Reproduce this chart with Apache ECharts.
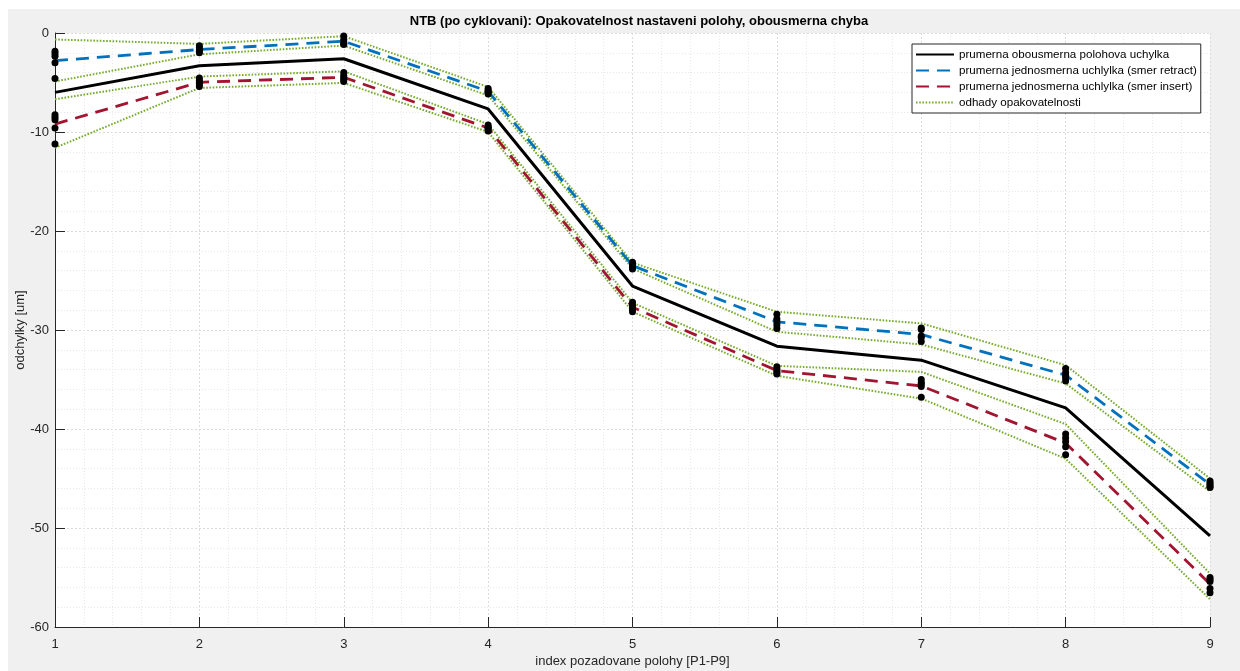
<!DOCTYPE html>
<html>
<head>
<meta charset="utf-8">
<script src="https://cdn.jsdelivr.net/npm/echarts@6/dist/echarts.min.js"></script>
<style>
html,body{margin:0;padding:0;background:#ffffff;}
#chart{position:absolute;left:0;top:0;width:1240px;height:671px;}
</style>
</head>
<body>
<div id="chart"></div>
<script>
// Positions P1-P9
var positions = [1, 2, 3, 4, 5, 6, 7, 8, 9];
var xTickLabels = ['1', '2', '3', '4', '5', '6', '7', '8', '9'];
var yTicks = [-60, -50, -40, -30, -20, -10, 0];

// mean bidirectional deviation
var meanBi = [-6.0, -3.3, -2.6, -7.67, -25.56, -31.63, -33.05, -37.87, -50.8];
// mean unidirectional deviation (retract)
var meanRetract = [-2.8, -1.67, -0.83, -5.89, -23.5, -29.17, -30.45, -34.56, -45.6];
// mean unidirectional deviation (insert)
var meanInsert = [-9.2, -4.98, -4.47, -9.6, -27.7, -34.1, -35.65, -41.42, -55.65];

// repeatability estimates
var retractUpper = [-0.65, -1.1, -0.32, -5.45, -23.2, -28.16, -29.33, -33.55, -45.0];
var retractLower = [-4.9, -2.15, -1.27, -6.3, -23.8, -30.18, -31.46, -35.4, -46.3];
var insertUpper = [-6.7, -4.4, -3.87, -9.2, -27.25, -33.62, -34.23, -39.5, -54.6];
var insertLower = [-11.6, -5.55, -5.04, -10.0, -28.15, -34.63, -36.92, -43.0, -57.2];

// individual measurements (5 runs per direction)
var runsRetract = [
  [-1.84, -2.1, -2.35, -3.0, -4.6],
  [-1.3, -1.5, -1.7, -1.85, -2.0],
  [-0.3, -0.65, -0.9, -1.05, -1.15],
  [-5.6, -5.8, -5.9, -6.0, -6.15],
  [-23.15, -23.35, -23.5, -23.65, -23.85],
  [-28.4, -28.9, -29.2, -29.5, -29.85],
  [-29.8, -29.95, -30.6, -30.75, -31.15],
  [-33.9, -34.3, -34.6, -34.85, -35.15],
  [-45.25, -45.45, -45.6, -45.8, -45.9]
];
var runsInsert = [
  [-8.25, -8.5, -8.75, -9.6, -11.2],
  [-4.55, -4.8, -5.0, -5.15, -5.4],
  [-4.0, -4.3, -4.5, -4.7, -4.9],
  [-9.3, -9.5, -9.6, -9.7, -9.9],
  [-27.2, -27.5, -27.7, -27.95, -28.15],
  [-33.7, -33.95, -34.1, -34.3, -34.45],
  [-35.0, -35.3, -35.45, -35.7, -36.8],
  [-40.5, -40.9, -41.3, -41.8, -42.6],
  [-55.0, -55.2, -55.4, -56.1, -56.55]
];

var names = {
  bi: 'prumerna obousmerna polohova uchylka',
  ret: 'prumerna jednosmerna uchlylka (smer retract)',
  ins: 'prumerna jednosmerna uchlylka (smer insert)',
  rep: 'odhady opakovatelnosti'
};

function pairs(vals) {
  return positions.map(function (x, i) { return [x, vals[i]]; });
}
function runPairs(runs) {
  var out = [];
  runs.forEach(function (arr, i) {
    arr.forEach(function (v) { out.push([positions[i], v]); });
  });
  return out;
}

var FONT = 'Liberation Sans, Arial, Helvetica, sans-serif';
var green = '#77AC30';

function greenSeries(vals) {
  return {
    name: names.rep, type: 'line', data: pairs(vals), symbol: 'none',
    lineStyle: { color: green, width: 2, type: [1.6, 1.6] },
    itemStyle: { color: green }, z: 2, silent: true
  };
}

var chart = echarts.init(document.getElementById('chart'), null, { renderer: 'canvas' });
chart.setOption({
  animation: false,
  backgroundColor: '#f0f0f0',
  graphic: [
    { type: 'rect', left: 0, top: 0, shape: { width: 8, height: 671 }, style: { fill: '#ffffff' }, z: 100 },
    { type: 'rect', left: 0, top: 0, shape: { width: 1240, height: 9 }, style: { fill: '#ffffff' }, z: 100 }
  ],
  title: {
    text: 'NTB (po cyklovani): Opakovatelnost nastaveni polohy, obousmerna chyba',
    left: 634, top: 10, textAlign: 'center',
    textStyle: { fontFamily: FONT, fontSize: 13, fontWeight: 'bold', color: '#000' }
  },
  legend: {
    orient: 'vertical', left: 912, top: 44,
    data: [names.bi, names.ret, names.ins, names.rep],
    backgroundColor: '#ffffff', borderColor: '#262626', borderWidth: 1,
    padding: [4, 4, 4, 3], itemGap: 3, itemWidth: 38, itemHeight: 13,
    itemStyle: { opacity: 0 },
    textStyle: { fontFamily: FONT, fontSize: 11.6, color: '#000', lineHeight: 13 },
    selectedMode: false
  },
  grid: {
    left: 55, right: 30, top: 33, bottom: 44,
    outerBoundsMode: 'none', containLabel: false,
    show: true, backgroundColor: '#ffffff', borderWidth: 0
  },
  xAxis: {
    type: 'value', min: 1, max: 9, interval: 1,
    name: 'index pozadovane polohy [P1-P9]', nameLocation: 'middle', nameGap: 28,
    nameMoveOverlap: false,
    nameTextStyle: { fontFamily: FONT, fontSize: 13, color: '#262626', verticalAlign: 'top' },
    axisLine: { show: true, onZero: false, lineStyle: { color: '#262626', width: 1 } },
    axisTick: { show: true, inside: true, length: 10, lineStyle: { color: '#262626' } },
    axisLabel: { fontFamily: FONT, fontSize: 13, color: '#262626', margin: 11,
      formatter: function (v) { return xTickLabels[positions.indexOf(v)] || ''; } },
    splitLine: { show: true, lineStyle: { color: '#dcdcdc', type: [2, 2], width: 1 } },
    minorTick: { show: false, splitNumber: 5 },
    minorSplitLine: { show: true, lineStyle: { color: '#e8e8e8', type: [1, 2], width: 1 } }
  },
  yAxis: {
    type: 'value', min: yTicks[0], max: yTicks[yTicks.length - 1], interval: 10,
    name: 'odchylky [um]', nameLocation: 'middle', nameGap: 28, nameRotate: 90,
    nameMoveOverlap: false,
    nameTextStyle: { fontFamily: FONT, fontSize: 13, color: '#262626' },
    axisLine: { show: true, onZero: false, lineStyle: { color: '#262626', width: 1 } },
    axisTick: { show: true, inside: true, length: 10, lineStyle: { color: '#262626' } },
    axisLabel: { fontFamily: FONT, fontSize: 13, color: '#262626', margin: 6 },
    splitLine: { show: true, lineStyle: { color: '#dcdcdc', type: [2, 2], width: 1 } },
    minorTick: { show: false, splitNumber: 5 },
    minorSplitLine: { show: true, lineStyle: { color: '#e8e8e8', type: [1, 2], width: 1 } }
  },
  series: [
    greenSeries(retractUpper),
    greenSeries(retractLower),
    greenSeries(insertUpper),
    greenSeries(insertLower),
    {
      name: names.bi, type: 'line', data: pairs(meanBi), symbol: 'none',
      lineStyle: { color: '#000000', width: 3, type: 'solid' }, itemStyle: { color: '#000' }, z: 3
    },
    {
      name: names.ret, type: 'line', data: pairs(meanRetract), symbol: 'none',
      lineStyle: { color: '#0072BD', width: 2.8, type: [13, 8] }, itemStyle: { color: '#0072BD' }, z: 3
    },
    {
      name: names.ins, type: 'line', data: pairs(meanInsert), symbol: 'none',
      lineStyle: { color: '#A2142F', width: 2.8, type: [13, 8] }, itemStyle: { color: '#A2142F' }, z: 3
    },
    {
      name: 'retract runs', type: 'scatter', data: runPairs(runsRetract), symbol: 'circle', symbolSize: 7,
      itemStyle: { color: '#000000', opacity: 1 }, z: 4, silent: true
    },
    {
      name: 'insert runs', type: 'scatter', data: runPairs(runsInsert), symbol: 'circle', symbolSize: 7,
      itemStyle: { color: '#000000', opacity: 1 }, z: 4, silent: true
    }
  ]
});
</script>
</body>
</html>
